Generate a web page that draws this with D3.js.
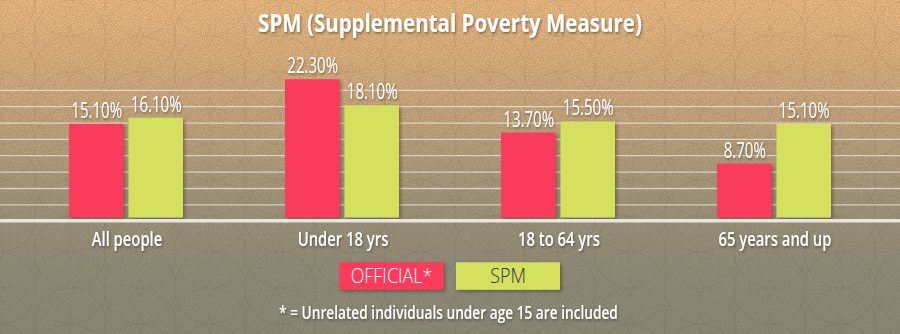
<!DOCTYPE html>
<html>
<head>
<meta charset="utf-8">
<script src="https://cdn.jsdelivr.net/npm/d3@7"></script>
<style>
  html, body { margin: 0; padding: 0; background: #b09a7a; }
  svg { display: block; }
</style>
</head>
<body>
<svg id="chart" width="900" height="334"></svg>
<script>
// ---- data ----
const title = "SPM (Supplemental Poverty Measure)";
const categories = ["All people", "Under 18 yrs", "18 to 64 yrs", "65 years and up"];
const seriesNames = ["OFFICIAL*", "SPM"];
const officialValues = [15.1, 22.3, 13.7, 8.7];
const spmValues = [16.1, 18.1, 15.5, 15.1];
const valueLabels = [["15.10%", "16.10%"], ["22.30%", "18.10%"], ["13.70%", "15.50%"], ["8.70%", "15.10%"]];
const gridValues = [2.05, 4.68, 7.33, 9.97, 12.6, 15.23, 17.88, 20.52];
const footnote = "* = Unrelated individuals under age 15 are included";

// ---- setup ----
const W = 900, H = 334;
const svg = d3.select("#chart");
const colors = { "OFFICIAL*": "#fa3a5b", "SPM": "#d5e05f" };
const legendText = { "OFFICIAL*": "#ffffff", "SPM": "#28383c" };

const defs = svg.append("defs");
const bg = defs.append("linearGradient").attr("id", "bg").attr("x1", 0).attr("y1", 0).attr("x2", 0).attr("y2", 1);
[[0, "#ecba80"], [0.15, "#dfb07c"], [0.35, "#c5a57c"], [0.6, "#9e9379"], [0.8, "#8e8a78"], [1, "#898776"]]
  .forEach(([o, c]) => bg.append("stop").attr("offset", o).attr("stop-color", c));

// scallop pattern
const pat = defs.append("pattern").attr("id", "scales").attr("patternUnits", "userSpaceOnUse")
  .attr("width", 70).attr("height", 36);
[[0, 0], [70, 0], [35, 18], [0, 36], [70, 36]].forEach(([cx, cy]) =>
  pat.append("circle").attr("cx", cx).attr("cy", cy).attr("r", 36)
    .attr("fill", "none").attr("stroke", "rgba(70,55,35,0.09)").attr("stroke-width", 1));

// stipple noise
const noise = defs.append("filter").attr("id", "noise").attr("x", 0).attr("y", 0).attr("width", "100%").attr("height", "100%");
noise.append("feTurbulence").attr("type", "fractalNoise").attr("baseFrequency", 0.9).attr("numOctaves", 1).attr("seed", 3).attr("result", "t");
noise.append("feColorMatrix").attr("type", "matrix")
  .attr("values", "0 0 0 0 0.2  0 0 0 0 0.15  0 0 0 0 0.1  0 0 0 -9 5.2");

const shadow = defs.append("filter").attr("id", "shadow").attr("x", "-20%").attr("y", "-20%").attr("width", "150%").attr("height", "150%");
shadow.append("feDropShadow").attr("dx", 2).attr("dy", 2).attr("stdDeviation", 1.6).attr("flood-color", "#3a2a20").attr("flood-opacity", 0.45);
const tshadow = defs.append("filter").attr("id", "tshadow").attr("x", "-10%").attr("y", "-30%").attr("width", "120%").attr("height", "170%");
tshadow.append("feDropShadow").attr("dx", 1.2).attr("dy", 1.5).attr("stdDeviation", 1.2).attr("flood-color", "#3a2a1a").attr("flood-opacity", 0.55);

svg.append("rect").attr("width", W).attr("height", H).attr("fill", "url(#bg)");
svg.append("rect").attr("width", W).attr("height", H).attr("fill", "url(#scales)");
svg.append("rect").attr("width", W).attr("height", H).attr("filter", "url(#noise)").attr("opacity", 0.2);

// ---- scales ----
const x0 = d3.scaleBand().domain(categories).range([18, 882]).padding(0);
const x1 = d3.scaleBand().domain(seriesNames).range([x0.bandwidth() / 2 - 57, x0.bandwidth() / 2 + 57]).paddingInner(0.084);
const y = d3.scaleLinear().domain([0, 25]).range([217.5, 62.5]);

// condensed text: place at (x, y) and squeeze horizontally
function placeText(sel, fx, fy, f) {
  sel.attr("x", 0).attr("y", 0)
    .attr("transform", (d, i) => `translate(${fx(d, i)},${fy(d, i)}) scale(${f},1)`);
}

// gridlines
svg.append("g").selectAll("line").data(gridValues).join("line")
  .attr("x1", 0).attr("x2", W)
  .attr("y1", d => y(d)).attr("y2", d => y(d))
  .attr("stroke", "#ece6da").attr("stroke-opacity", 0.75).attr("stroke-width", 1.3);

// bars
const rows = categories.map((c, i) => ({ cat: c, vals: [officialValues[i], spmValues[i]], labels: valueLabels[i] }));
const groups = svg.append("g").selectAll("g").data(rows).join("g")
  .attr("transform", d => `translate(${x0(d.cat)},0)`);

groups.selectAll("rect").data(d => seriesNames.map((s, j) => ({ s, v: d.vals[j] }))).join("rect")
  .attr("x", d => x1(d.s)).attr("width", x1.bandwidth())
  .attr("y", d => y(d.v)).attr("height", d => y(0) - y(d.v))
  .attr("fill", d => colors[d.s]).attr("filter", "url(#shadow)");

const vl = groups.selectAll("text").data(d => seriesNames.map((s, j) => ({ s, v: d.vals[j], l: d.labels[j] }))).join("text")
  .attr("text-anchor", "middle")
  .attr("font-family", "'Open Sans', sans-serif").attr("font-weight", 500).attr("font-size", 21.5)
  .attr("fill", "#fff").attr("filter", "url(#tshadow)")
  .text(d => d.l);
placeText(vl, d => x1(d.s) + x1.bandwidth() / 2 + 0.5, d => y(d.v) - 6, 0.7);

// baseline
svg.append("line").attr("x1", 0).attr("x2", W).attr("y1", y(0) + 3.3).attr("y2", y(0) + 3.3)
  .attr("stroke", "#e8e6da").attr("stroke-width", 3.5);

// category labels
const cl = svg.append("g").selectAll("text").data(categories).join("text")
  .attr("text-anchor", "middle")
  .attr("font-family", "'Open Sans', sans-serif").attr("font-weight", 600).attr("font-size", 19.5)
  .attr("fill", "#fff").attr("filter", "url(#tshadow)")
  .text(d => d);
placeText(cl, d => x0(d) + x0.bandwidth() / 2 + 1, () => 245.7, 0.76);

// title
const tt = svg.append("text").datum(title)
  .attr("text-anchor", "middle")
  .attr("font-family", "'Open Sans', sans-serif").attr("font-weight", 700).attr("font-size", 25)
  .attr("fill", "#fff").attr("filter", "url(#tshadow)").text(d => d);
placeText(tt, () => W / 2, () => 31.5, 0.82);

// legend
const lg = svg.append("g").selectAll("g").data(seriesNames).join("g")
  .attr("transform", (d, i) => `translate(${339.5 + i * 116.5},262.3)`);
lg.append("rect").attr("width", 104).attr("height", 27.5).attr("fill", d => colors[d]).attr("filter", "url(#shadow)");
const lt = lg.append("text").attr("text-anchor", "middle")
  .attr("font-family", "'Open Sans', sans-serif").attr("font-weight", 300).attr("font-size", 19.5)
  .attr("fill", d => legendText[d]).text(d => d);
placeText(lt, () => 52, () => 21, 0.92);

// footnote
const fn = svg.append("text").datum(footnote)
  .attr("text-anchor", "middle")
  .attr("font-family", "'Open Sans', sans-serif").attr("font-weight", 600).attr("font-size", 18.5)
  .attr("fill", "#fff").attr("filter", "url(#tshadow)").text(d => d);
placeText(fn, () => 448.5, () => 319.3, 0.74);
</script>
</body>
</html>
